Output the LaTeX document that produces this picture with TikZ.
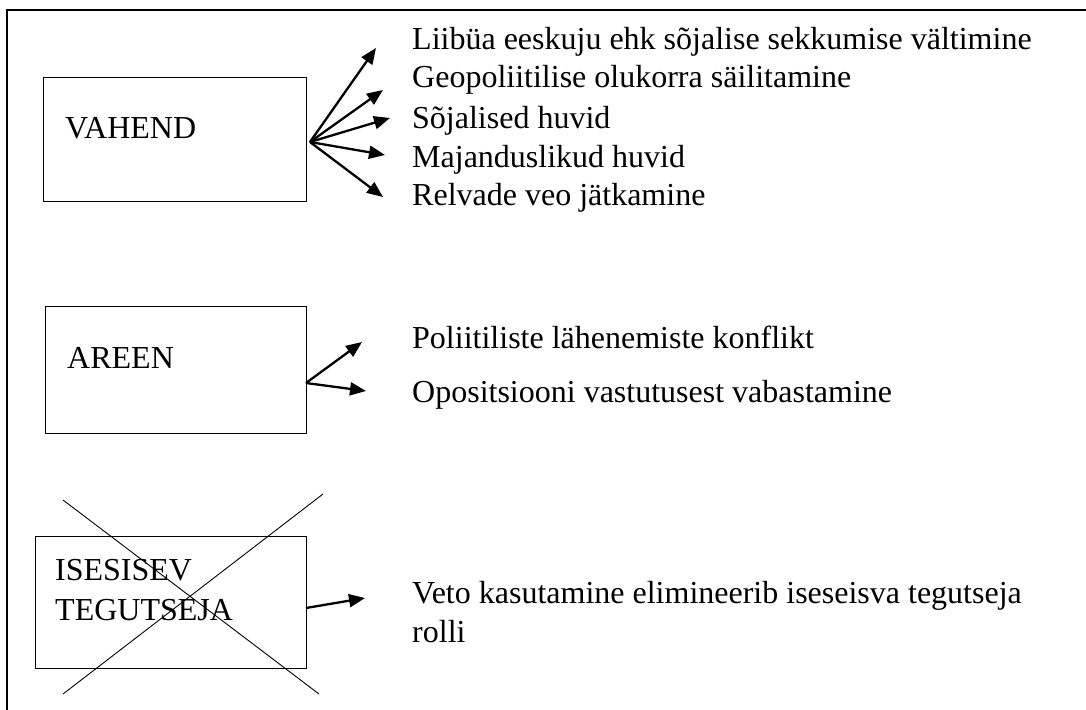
\documentclass[tikz,border=0pt]{standalone}
\usepackage{fontspec}
\setmainfont{Liberation Serif}
\usetikzlibrary{arrows.meta}
\begin{document}
\begin{tikzpicture}[x=1pt,y=-1pt,
  txt/.style={anchor=base west,inner sep=0pt,font=\fontsize{32}{40}\selectfont},
  boxshape/.style={draw,line width=1.3pt,inner sep=0pt,anchor=north west},
  arr/.style={line width=2.3pt,-{Triangle[length=16pt,width=13pt]}},
  crossline/.style={line width=0.9pt}]
\useasboundingbox (0,0) rectangle (1086,709);
% outer frame
\coordinate (fTR) at (1090,10);
\coordinate (fTL) at (7,10);
\coordinate (fBL) at (7,712);
\draw[line width=1.5pt] (fTR) -- (fTL) -- (fBL);
% boxes
\node[boxshape,minimum width=263pt,minimum height=124pt] (vahend) at (43,77) {};
\node[boxshape,minimum width=261pt,minimum height=127pt] (areen) at (45,306) {};
\node[boxshape,minimum width=271pt,minimum height=132pt] (ises) at (35,536) {};
% box labels
\node[txt] (tv) at (65,138) {VAHEND};
\node[txt] (ta) at (67,368) {AREEN};
\node[txt] (ti1) at (55,580) {ISESISEV};
\node[txt] (ti2) at (55,620) {TEGUTSEJA};
% cross
\coordinate (c1a) at (63,500);
\coordinate (c1b) at (319,694);
\coordinate (c2a) at (323,494);
\coordinate (c2b) at (63,694);
\draw[crossline] (c1a) -- (c1b);
\draw[crossline] (c2a) -- (c2b);
% right texts
\node[txt] (l1) at (412,50) {Liibüa eeskuju ehk sõjalise sekkumise vältimine};
\node[txt] (l2) at (412,88) {Geopoliitilise olukorra säilitamine};
\node[txt] (l3) at (412,128) {Sõjalised huvid};
\node[txt] (l4) at (412,167) {Majanduslikud huvid};
\node[txt] (l5) at (412,205) {Relvade veo jätkamine};
\node[txt] (m1) at (412,348) {Poliitiliste lähenemiste konflikt};
\node[txt] (m2) at (412,402) {Opositsiooni vastutusest vabastamine};
\node[txt] (n1) at (412,603) {Veto kasutamine elimineerib iseseisva tegutseja};
\node[txt] (n2) at (412,642) {rolli};
% arrows
\coordinate (vo) at (310,142);
\coordinate (v1) at (376,48);
\coordinate (v2) at (383,90);
\coordinate (v3) at (390,118);
\coordinate (v4) at (385,155);
\coordinate (v5) at (383,197);
\foreach \t in {v1,v2,v3,v4,v5} \draw[arr] (vo) -- (\t);
\coordinate (ao) at (306,383);
\coordinate (a1) at (362,342);
\coordinate (a2) at (366,391);
\draw[arr] (ao) -- (a1);
\draw[arr] (ao) -- (a2);
\coordinate (io) at (306,608);
\coordinate (i1) at (365,598);
\draw[arr] (io) -- (i1);
\end{tikzpicture}
\end{document}
